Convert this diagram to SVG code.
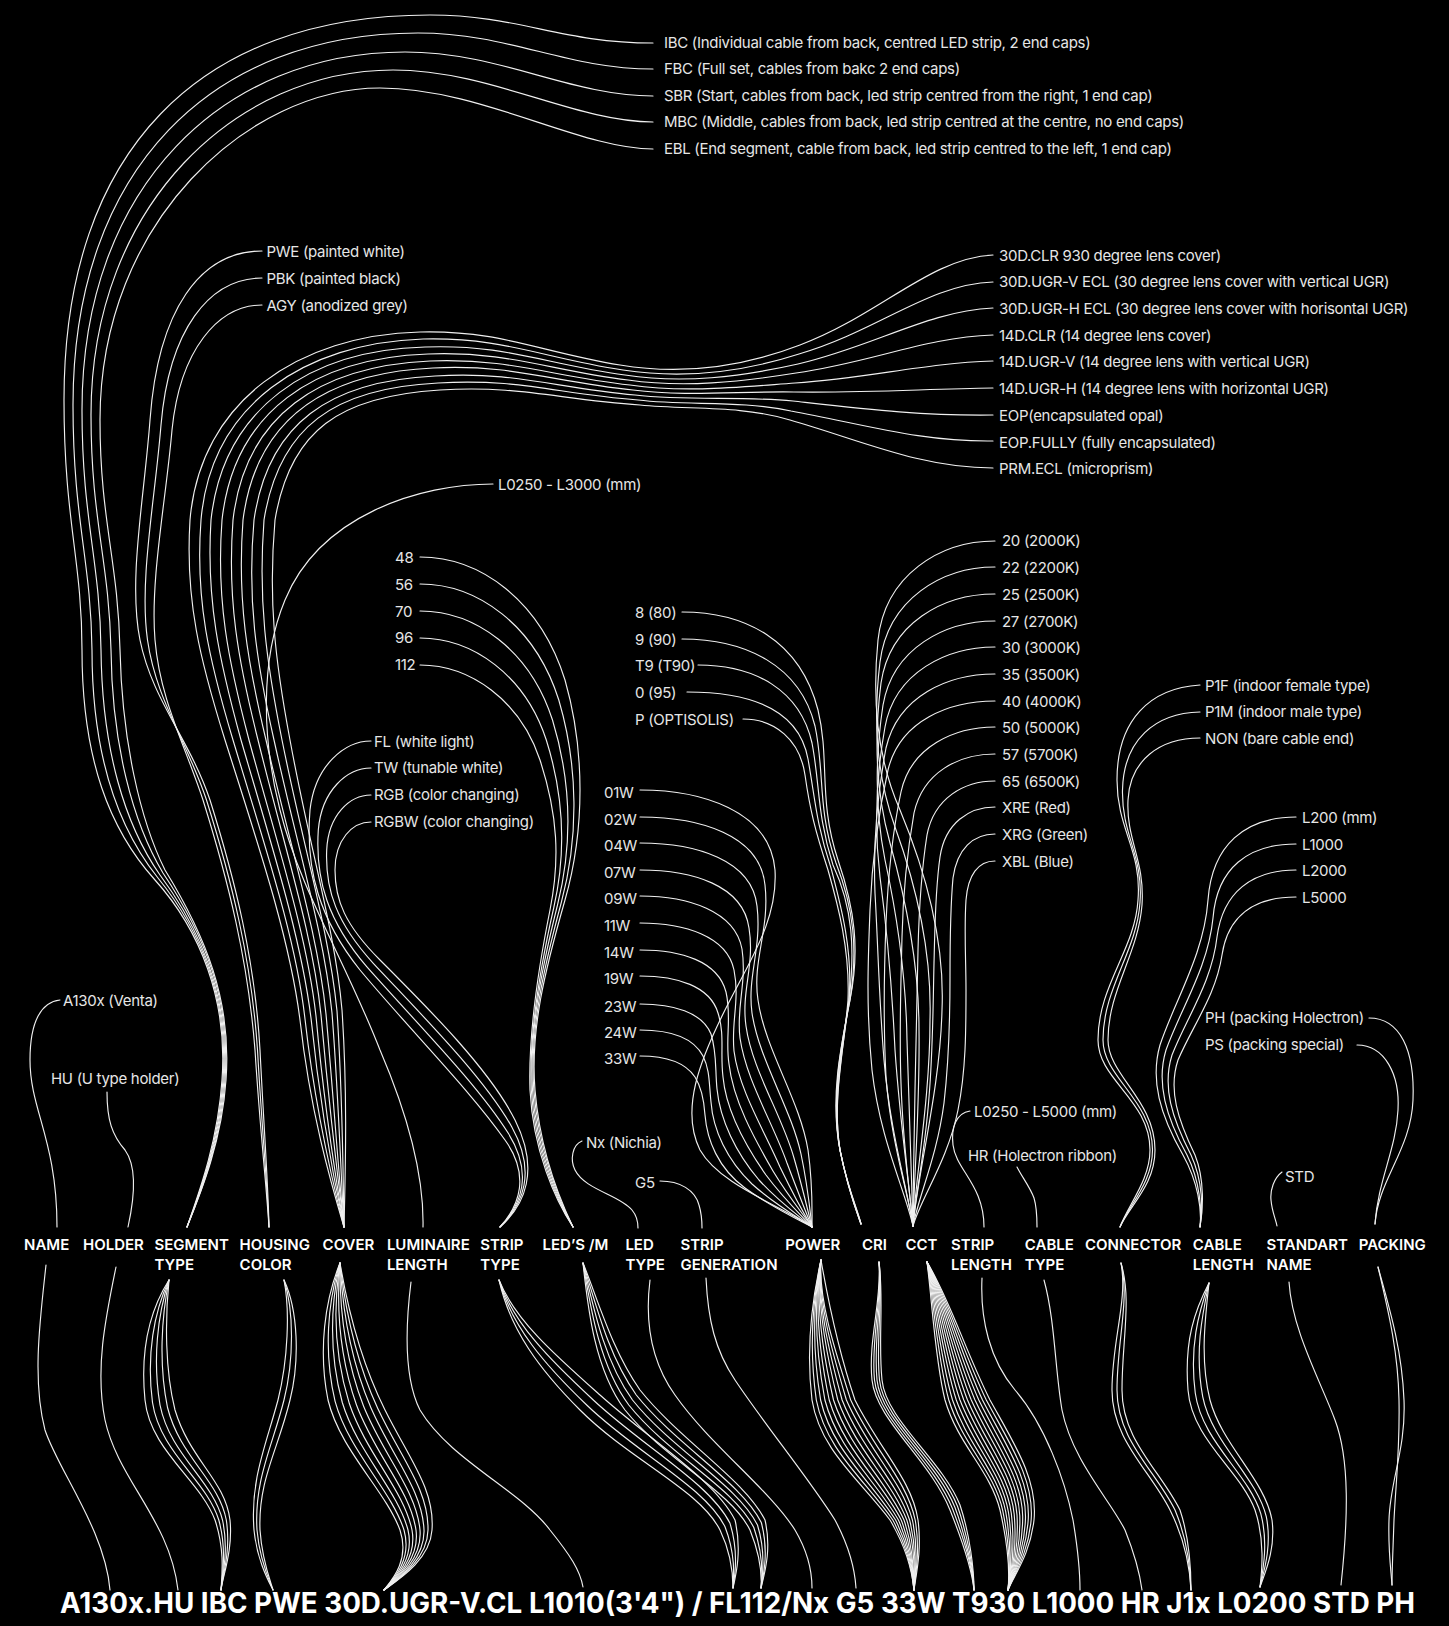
<svg xmlns="http://www.w3.org/2000/svg" width="1449" height="1626" viewBox="0 0 1449 1626">
<style>
.l{fill:none;stroke:#f0f0f0;stroke-width:1.15;stroke-linecap:round}
.o{font-family:Inter,"Noto Sans","Liberation Sans",sans-serif;font-size:15px;fill:#e6e6e6;letter-spacing:-0.3px}
.k{font-family:Inter,"Noto Sans","Liberation Sans",sans-serif;font-size:15px;font-weight:600;fill:#ffffff}
.code{font-family:Inter,"Noto Sans","Liberation Sans",sans-serif;font-size:28.5px;font-weight:700;fill:#ffffff}
</style>
<rect width="1449" height="1626" fill="#000000"/>
<g id="connectors">
<g id="c-segment">
<path class="l" d="M653,43 C560,43 520,15 430,15 C200,15 64,150 64,400 C64,520 82,560 82,650 C82,760 110,830 155,880 C200,930 228,1000 222,1080 C218,1140 200,1190 187,1227"/>
<path class="l" d="M653,69 C565,69 510,33 418,33 C213,33 73,168 73,405 C73,520 91,560 92,650 C92,755 118,828 158,878 C201,931 229,1000 223,1080 C219,1140 201,1190 187,1227"/>
<path class="l" d="M653,96 C570,96 500,52 405,52 C225,52 82,185 82,410 C82,520 100,560 101,650 C102,750 125,825 160,875 C203,933 230,1000 224,1080 C220,1140 201,1190 187,1227"/>
<path class="l" d="M653,122 C575,122 490,70 393,70 C238,70 91,203 91,415 C91,520 109,560 111,650 C112,745 133,823 163,873 C204,934 231,1000 225,1080 C221,1140 202,1190 187,1227"/>
<path class="l" d="M653,149 C580,149 480,88 380,88 C250,88 100,220 100,420 C100,520 118,560 120,650 C122,740 140,820 165,870 C205,935 232,1000 226,1080 C222,1140 202,1190 187,1227"/>
<path class="l" d="M169,1280 C150,1310 140,1350 145,1400 C150,1450 200,1480 215,1520 C225,1550 222,1575 221,1590"/>
<path class="l" d="M169,1280 C153.8,1312.5 146.3,1355 152.5,1402.5 C160,1452.5 206.3,1480 218.8,1520 C227,1550 222.3,1575 221,1590"/>
<path class="l" d="M169,1280 C157.5,1315 152.5,1360 160,1405 C170,1455 212.5,1480 222.5,1520 C229,1550 222.5,1575 221,1590"/>
<path class="l" d="M169,1280 C161.3,1317.5 158.8,1365 167.5,1407.5 C180,1457.5 218.8,1480 226.3,1520 C231,1550 222.8,1575 221,1590"/>
<path class="l" d="M169,1280 C165,1320 165,1370 175,1410 C190,1460 225,1480 230,1520 C233,1550 223,1575 221,1590"/>
</g>
<g id="c-housing">
<path class="l" d="M262,251 C200,251 158,310 150,420 C144,500 128,580 140,640 C152,700 190,740 210,800 C235,880 255,960 260,1050 C264,1130 268,1180 269,1227"/>
<path class="l" d="M262,278 C209,278 169,330 161,425 C155,500 139,580 147.5,640 C156,700 187.5,742.5 206.5,800 C231.5,880 251.5,960 257.5,1050 C262,1130 267,1180 269,1227"/>
<path class="l" d="M262,305 C218,305 180,350 172,430 C166,500 150,580 155,640 C160,700 185,745 203,800 C228,880 248,960 255,1050 C260,1130 266,1180 269,1227"/>
<path class="l" d="M284,1280 C298,1310 300,1360 290,1400 C278,1450 258,1480 260,1530 C262,1560 270,1580 273,1590"/>
<path class="l" d="M284,1280 C294,1310 294,1360 284,1400 C272,1447.5 254,1480 257,1530 C259.5,1560 269,1580 273,1590"/>
<path class="l" d="M284,1280 C290,1310 288,1360 278,1400 C266,1445 250,1480 254,1530 C257,1560 268,1580 273,1590"/>
</g>
<g id="c-cover">
<path class="l" d="M993,255 C930,258 880,315 800,345 C740,368 680,375 620,365 C540,352 500,330 420,332 C300,335 200,400 190,520 C185,600 200,660 225,740 C260,850 290,940 300,1020 C310,1110 330,1180 344,1227"/>
<path class="l" d="M993,282 C929,284 878,331 799,354 C740,373 681,379 623,370 C543,358 503,337 423,339 C305,343 211,404 201,520 C195,600 209,660 233,740 C266,850 296,939 305,1019 C315,1109 332,1180 344,1227"/>
<path class="l" d="M993,308 C928,311 875,346 798,364 C740,377 683,384 625,375 C545,364 505,344 425,347 C310,350 223,408 211,520 C206,600 219,660 241,740 C273,850 301,938 311,1018 C320,1108 334,1180 344,1227"/>
<path class="l" d="M993,335 C926,337 873,362 796,373 C740,382 684,388 628,380 C548,370 508,351 428,354 C315,358 234,411 222,520 C216,600 228,660 249,740 C279,850 307,936 316,1016 C324,1106 336,1180 344,1227"/>
<path class="l" d="M993,361 C925,363 870,378 795,383 C740,387 685,393 630,385 C550,376 510,358 430,361 C320,366 245,415 233,520 C227,600 238,660 258,740 C285,850 313,935 321,1015 C329,1105 338,1180 344,1227"/>
<path class="l" d="M993,388 C924,389 868,393 794,392 C740,391 686,397 633,390 C553,382 513,364 433,368 C325,373 256,419 243,520 C237,600 247,660 266,740 C291,850 318,934 326,1014 C334,1104 339,1180 344,1227"/>
<path class="l" d="M993,415 C923,416 865,409 793,401 C740,396 688,401 635,395 C555,388 515,371 435,376 C330,381 268,423 254,520 C247,600 256,660 274,740 C298,850 324,933 332,1013 C339,1103 341,1180 344,1227"/>
<path class="l" d="M993,441 C921,442 863,424 791,411 C740,400 689,406 638,400 C558,394 518,378 438,383 C335,388 279,426 264,520 C258,600 266,660 282,740 C304,850 329,931 337,1011 C343,1101 343,1180 344,1227"/>
<path class="l" d="M993,468 C920,468 860,440 790,420 C740,405 690,410 640,405 C560,400 520,385 440,390 C340,396 290,430 275,520 C268,600 275,660 290,740 C310,850 335,930 342,1010 C348,1100 345,1180 344,1227"/>
<path class="l" d="M340,1263 C325,1300 318,1350 328,1400 C340,1450 385,1490 400,1530 C410,1560 392,1580 384,1590"/>
<path class="l" d="M340,1263 C327.9,1301.3 323.3,1351.3 335.1,1401.3 C348.8,1451.3 391.3,1490 404,1530 C412.5,1560 392.8,1580 384,1590"/>
<path class="l" d="M340,1263 C330.8,1302.5 328.5,1352.5 342.3,1402.5 C357.5,1452.5 397.5,1490 408,1530 C415,1560 393.5,1580 384,1590"/>
<path class="l" d="M340,1263 C333.6,1303.8 333.8,1353.8 349.4,1403.8 C366.3,1453.8 403.8,1490 412,1530 C417.5,1560 394.3,1580 384,1590"/>
<path class="l" d="M340,1263 C336.5,1305 339,1355 356.5,1405 C375,1455 410,1490 416,1530 C420,1560 395,1580 384,1590"/>
<path class="l" d="M340,1263 C339.4,1306.3 344.3,1356.3 363.6,1406.3 C383.8,1456.3 416.3,1490 420,1530 C422.5,1560 395.8,1580 384,1590"/>
<path class="l" d="M340,1263 C342.3,1307.5 349.5,1357.5 370.8,1407.5 C392.5,1457.5 422.5,1490 424,1530 C425,1560 396.5,1580 384,1590"/>
<path class="l" d="M340,1263 C345.1,1308.8 354.8,1358.8 377.9,1408.8 C401.3,1458.8 428.8,1490 428,1530 C427.5,1560 397.3,1580 384,1590"/>
<path class="l" d="M340,1263 C348,1310 360,1360 385,1410 C410,1460 435,1490 432,1530 C430,1560 398,1580 384,1590"/>
</g>
<g id="c-luminaire">
<path class="l" d="M493,484 C420,484 320,515 285,600 C260,660 262,740 280,810 C300,890 345,960 380,1050 C410,1120 424,1180 423,1227"/>
<path class="l" d="M411,1282 C405,1330 405,1380 420,1410 C450,1460 520,1490 550,1530 C570,1555 580,1570 583,1587"/>
</g>
<g id="c-striptype">
<path class="l" d="M371,741 C345,741 315,765 310,810 C305,870 320,920 360,970 C410,1030 470,1090 505,1140 C530,1175 520,1205 500,1227"/>
<path class="l" d="M371,768 C347.3,768 321.7,790 318.3,830 C315,880 328.3,921.7 366.7,966.7 C416.7,1023.3 476.7,1083.3 508.3,1133.3 C533.3,1173.3 521.7,1205 500,1227"/>
<path class="l" d="M371,795 C349.7,795 328.3,815 326.7,850 C325,890 336.7,923.3 373.3,963.3 C423.3,1016.7 483.3,1076.7 511.7,1126.7 C536.7,1171.7 523.3,1205 500,1227"/>
<path class="l" d="M371,822 C352,822 335,840 335,870 C335,900 345,925 380,960 C430,1010 490,1070 515,1120 C540,1170 525,1205 500,1227"/>
<path class="l" d="M499,1280 C510,1330 540,1370 580,1410 C630,1460 700,1490 720,1530 C732,1555 733,1575 733,1588"/>
<path class="l" d="M499,1280 C511.7,1326.7 545,1365 586.7,1405 C636.7,1453.3 705,1486.7 725,1526.7 C735.3,1553.3 734,1575 733,1588"/>
<path class="l" d="M499,1280 C513.3,1323.3 550,1360 593.3,1400 C643.3,1446.7 710,1483.3 730,1523.3 C738.7,1551.7 735,1575 733,1588"/>
<path class="l" d="M499,1280 C515,1320 555,1355 600,1395 C650,1440 715,1480 735,1520 C742,1550 736,1575 733,1588"/>
</g>
<g id="c-ledsm">
<path class="l" d="M420,557 C480,557 540,600 565,680 C585,750 585,830 565,900 C545,970 530,1030 535,1090 C540,1150 560,1200 573,1227"/>
<path class="l" d="M420,584 C477.5,584 535,625 558.8,700 C578.3,766.3 578.8,837.5 561.3,902.5 C543.8,967.5 529.5,1030 533.8,1090 C538.3,1150 558.8,1200 573,1227"/>
<path class="l" d="M420,611 C475,611 530,650 552.5,720 C571.5,782.5 572.5,845 557.5,905 C542.5,965 529,1030 532.5,1090 C536.5,1150 557.5,1200 573,1227"/>
<path class="l" d="M420,638 C472.5,638 525,675 546.3,740 C564.8,798.8 566.3,852.5 553.8,907.5 C541.3,962.5 528.5,1030 531.3,1090 C534.8,1150 556.3,1200 573,1227"/>
<path class="l" d="M420,665 C470,665 520,700 540,760 C558,815 560,860 550,910 C540,960 528,1030 530,1090 C533,1150 555,1200 573,1227"/>
<path class="l" d="M583,1263 C588,1310 595,1370 625,1410 C665,1460 730,1490 750,1530 C760,1555 762,1575 761,1588"/>
<path class="l" d="M583,1263 C590.5,1307.5 599.3,1365 628.8,1405 C668.8,1455 733.8,1487.5 753.8,1527.5 C763,1553.8 762.5,1575 761,1588"/>
<path class="l" d="M583,1263 C593,1305 603.5,1360 632.5,1400 C672.5,1450 737.5,1485 757.5,1525 C766,1552.5 763,1575 761,1588"/>
<path class="l" d="M583,1263 C595.5,1302.5 607.8,1355 636.3,1395 C676.3,1445 741.3,1482.5 761.3,1522.5 C769,1551.3 763.5,1575 761,1588"/>
<path class="l" d="M583,1263 C598,1300 612,1350 640,1390 C680,1440 745,1480 765,1520 C772,1550 764,1575 761,1588"/>
</g>
<g id="c-name">
<path class="l" d="M60,1000 C42,1002 30,1020 30,1060 C30,1110 57,1140 57,1227"/>
<path class="l" d="M46,1265 C40,1320 32,1380 45,1430 C58,1470 105,1530 110,1590"/>
</g>
<g id="c-holder">
<path class="l" d="M107,1092 C107,1120 112,1135 125,1150 C138,1168 134,1200 128,1227"/>
<path class="l" d="M116,1267 C105,1320 95,1370 105,1420 C118,1480 170,1520 178,1590"/>
</g>
<g id="c-ledtype">
<path class="l" d="M582,1141 C572,1145 570,1160 575,1170 C585,1190 620,1195 632,1210 C637,1216 638,1222 638,1228"/>
<path class="l" d="M650,1280 C645,1320 650,1360 675,1395 C710,1445 770,1490 795,1530 C808,1552 812,1572 812,1588"/>
</g>
<g id="c-stripgen">
<path class="l" d="M660,1181 C680,1181 695,1190 699,1205 C702,1215 702,1222 702,1228"/>
<path class="l" d="M706,1278 C708,1320 715,1350 735,1380 C765,1425 810,1480 835,1520 C850,1548 855,1572 856,1588"/>
</g>
<g id="c-power">
<path class="l" d="M640,790 C700,790 770,810 775,870 C778,920 750,960 725,1010 C700,1060 680,1110 700,1150 C720,1185 780,1205 812,1227"/>
<path class="l" d="M640,817 C700,817 760,835 765,885 C770,930 752,960 758,1000 C765,1050 800,1100 808,1150 C813,1185 812,1210 812,1227"/>
<path class="l" d="M640,843 C696,843 752,860 757,906 C762,948 747,976 752,1013 C759,1060 791,1108 801,1154 C808,1187 810,1211 812,1227"/>
<path class="l" d="M640,870 C692,870 743,885 749,928 C755,965 741,991 746,1026 C752,1070 782,1115 794,1158 C803,1189 808,1212 812,1227"/>
<path class="l" d="M640,896 C688,896 735,911 742,949 C747,983 736,1007 740,1038 C746,1080 773,1123 787,1163 C798,1192 806,1213 812,1227"/>
<path class="l" d="M640,923 C684,923 727,936 734,970 C740,1000 731,1022 734,1051 C739,1090 764,1130 780,1167 C793,1194 804,1214 812,1227"/>
<path class="l" d="M640,950 C681,950 718,961 726,992 C732,1018 725,1038 729,1064 C733,1100 754,1138 773,1171 C788,1196 803,1214 812,1227"/>
<path class="l" d="M640,976 C677,976 710,986 718,1013 C725,1035 720,1053 723,1077 C726,1110 745,1145 766,1175 C783,1198 801,1215 812,1227"/>
<path class="l" d="M640,1004 C673,1004 702,1012 711,1034 C717,1053 715,1069 717,1089 C720,1120 736,1153 759,1180 C778,1201 799,1216 812,1227"/>
<path class="l" d="M640,1030 C669,1030 693,1037 703,1056 C710,1070 709,1084 711,1102 C713,1130 727,1160 752,1184 C773,1203 797,1217 812,1227"/>
<path class="l" d="M640,1056 C665,1056 685,1062 695,1077 C702,1088 704,1100 705,1115 C707,1140 718,1168 745,1188 C768,1205 795,1218 812,1227"/>
<path class="l" d="M821,1260 C812,1300 806,1350 812,1400 C820,1450 860,1480 890,1520 C905,1545 912,1570 914,1590"/>
<path class="l" d="M821,1260 C812.7,1300 809.2,1350 816.3,1400 C826,1450 865.2,1480 892.8,1520 C906.7,1545.5 912.4,1570.5 914,1590"/>
<path class="l" d="M821,1260 C813.4,1300 812.4,1350 820.6,1400 C832,1450 870.4,1480 895.6,1520 C908.4,1546 912.8,1571 914,1590"/>
<path class="l" d="M821,1260 C814.1,1300 815.6,1350 824.9,1400 C838,1450 875.6,1480 898.4,1520 C910.1,1546.5 913.2,1571.5 914,1590"/>
<path class="l" d="M821,1260 C814.8,1300 818.8,1350 829.2,1400 C844,1450 880.8,1480 901.2,1520 C911.8,1547 913.6,1572 914,1590"/>
<path class="l" d="M821,1260 C815.5,1300 822,1350 833.5,1400 C850,1450 886,1480 904,1520 C913.5,1547.5 914,1572.5 914,1590"/>
<path class="l" d="M821,1260 C816.2,1300 825.2,1350 837.8,1400 C856,1450 891.2,1480 906.8,1520 C915.2,1548 914.4,1573 914,1590"/>
<path class="l" d="M821,1260 C816.9,1300 828.4,1350 842.1,1400 C862,1450 896.4,1480 909.6,1520 C916.9,1548.5 914.8,1573.5 914,1590"/>
<path class="l" d="M821,1260 C817.6,1300 831.6,1350 846.4,1400 C868,1450 901.6,1480 912.4,1520 C918.6,1549 915.2,1574 914,1590"/>
<path class="l" d="M821,1260 C818.3,1300 834.8,1350 850.7,1400 C874,1450 906.8,1480 915.2,1520 C920.3,1549.5 915.6,1574.5 914,1590"/>
<path class="l" d="M821,1260 C828,1300 838,1350 855,1400 C880,1450 912,1480 918,1520 C922,1550 916,1575 914,1590"/>
</g>
<g id="c-cri">
<path class="l" d="M682,612 C745,612 800,640 818,710 C830,760 818,800 838,860 C855,910 860,950 850,1000 C840,1050 830,1100 840,1150 C848,1190 856,1210 861,1224"/>
<path class="l" d="M682,639 C745,639 800,665 815,726 C825,773 817,808 836,863 C854,909 858,950 850,1000 C840,1050 831,1100 840,1150 C848,1190 857,1210 861,1224"/>
<path class="l" d="M698,665 C755,665 800,690 812,743 C820,785 817,815 833,865 C853,908 855,950 849,1000 C842,1050 831,1100 840,1150 C848,1190 857,1210 861,1224"/>
<path class="l" d="M687,692 C760,692 800,715 808,759 C815,798 816,823 831,868 C841,906 853,950 849,1000 C843,1050 832,1100 840,1150 C848,1190 858,1210 861,1224"/>
<path class="l" d="M743,719 C775,719 800,740 805,775 C810,810 815,830 828,870 C838,905 850,950 848,1000 C844,1050 832,1100 840,1150 C848,1190 856,1210 861,1224"/>
<path class="l" d="M879,1262 C882,1300 868,1340 872,1380 C876,1420 930,1460 950,1510 C962,1540 972,1570 974,1590"/>
<path class="l" d="M879,1262 C882.5,1300 870.5,1340 874.5,1380 C878.5,1420 933,1460 952.5,1508.8 C964,1538.8 972.5,1570 974,1590"/>
<path class="l" d="M879,1262 C883,1300 873,1340 877,1380 C881,1420 936,1460 955,1507.5 C966,1537.5 973,1570 974,1590"/>
<path class="l" d="M879,1262 C883.5,1300 875.5,1340 879.5,1380 C883.5,1420 939,1460 957.5,1506.3 C968,1536.3 973.5,1570 974,1590"/>
<path class="l" d="M879,1262 C884,1300 878,1340 882,1380 C886,1420 942,1460 960,1505 C970,1535 974,1570 974,1590"/>
</g>
<g id="c-cct">
<path class="l" d="M995,541 C940,541 885,575 878,640 C872,700 878,760 900,810 C925,870 945,940 942,1010 C940,1090 918,1170 913,1226"/>
<path class="l" d="M995,567 C942,567 888,599 880,662 C873,719 877,777 895,827 C916,885 932,952 930,1020 C930,1098 916,1173 913,1226"/>
<path class="l" d="M995,594 C943,594 890,623 881,683 C874,738 876,793 890,843 C906,900 919,963 919,1030 C920,1107 914,1177 913,1226"/>
<path class="l" d="M995,621 C945,621 893,648 883,705 C875,758 875,810 885,860 C897,915 906,975 907,1040 C910,1115 912,1180 913,1226"/>
<path class="l" d="M995,647 C947,647 895,672 885,727 C876,777 874,827 880,877 C887,930 892,987 895,1050 C900,1123 909,1183 913,1226"/>
<path class="l" d="M995,674 C948,674 898,696 886,748 C877,796 873,843 875,893 C878,945 879,998 884,1060 C890,1132 907,1187 913,1226"/>
<path class="l" d="M995,701 C950,701 900,720 888,770 C878,815 872,860 870,910 C868,960 866,1010 872,1070 C880,1140 905,1190 913,1226"/>
<path class="l" d="M995,727 C955,727 911,746 901,792 C892,834 888,877 886,923 C884,972 883,1020 886,1077 C891,1143 908,1192 913,1226"/>
<path class="l" d="M995,754 C959,754 923,772 914,813 C907,853 903,893 902,937 C901,983 899,1030 901,1083 C903,1147 910,1193 913,1226"/>
<path class="l" d="M995,781 C964,781 934,798 927,835 C921,873 919,910 918,950 C917,995 916,1040 915,1090 C914,1150 913,1195 913,1226"/>
<path class="l" d="M995,807 C969,807 945,823 940,857 C935,892 935,927 934,963 C933,1007 933,1050 929,1097 C925,1153 915,1197 913,1226"/>
<path class="l" d="M995,834 C973,834 957,849 953,878 C950,911 950,943 950,977 C950,1018 949,1060 944,1103 C937,1157 918,1198 913,1226"/>
<path class="l" d="M995,861 C978,861 968,875 966,900 C964,930 966,960 966,990 C966,1030 966,1070 958,1110 C948,1160 920,1200 913,1226"/>
<path class="l" d="M927,1262 C932,1300 935,1360 945,1400 C958,1445 990,1470 1000,1510 C1008,1545 1010,1570 1008,1590"/>
<path class="l" d="M927,1262 C933.5,1300 937.5,1359.2 948.8,1400 C962.8,1445 994,1470.8 1002.8,1510.8 C1009.8,1545.8 1010.3,1570.4 1008,1590"/>
<path class="l" d="M927,1262 C935,1300 940,1358.3 952.5,1400 C967.5,1445 998,1471.7 1005.7,1511.7 C1011.7,1546.7 1010.7,1570.8 1008,1590"/>
<path class="l" d="M927,1262 C936.5,1300 942.5,1357.5 956.3,1400 C972.3,1445 1002,1472.5 1008.5,1512.5 C1013.5,1547.5 1011,1571.3 1008,1590"/>
<path class="l" d="M927,1262 C938,1300 945,1356.7 960,1400 C977,1445 1006,1473.3 1011.3,1513.3 C1015.3,1548.3 1011.3,1571.7 1008,1590"/>
<path class="l" d="M927,1262 C939.5,1300 947.5,1355.8 963.8,1400 C981.8,1445 1010,1474.2 1014.2,1514.2 C1017.2,1549.2 1011.7,1572.1 1008,1590"/>
<path class="l" d="M927,1262 C941,1300 950,1355 967.5,1400 C986.5,1445 1014,1475 1017,1515 C1019,1550 1012,1572.5 1008,1590"/>
<path class="l" d="M927,1262 C942.5,1300 952.5,1354.2 971.3,1400 C991.3,1445 1018,1475.8 1019.8,1515.8 C1020.8,1550.8 1012.3,1572.9 1008,1590"/>
<path class="l" d="M927,1262 C944,1300 955,1353.3 975,1400 C996,1445 1022,1476.7 1022.7,1516.7 C1022.7,1551.7 1012.7,1573.3 1008,1590"/>
<path class="l" d="M927,1262 C945.5,1300 957.5,1352.5 978.8,1400 C1000.8,1445 1026,1477.5 1025.5,1517.5 C1024.5,1552.5 1013,1573.8 1008,1590"/>
<path class="l" d="M927,1262 C947,1300 960,1351.7 982.5,1400 C1005.5,1445 1030,1478.3 1028.3,1518.3 C1026.3,1553.3 1013.3,1574.2 1008,1590"/>
<path class="l" d="M927,1262 C948.5,1300 962.5,1350.8 986.3,1400 C1010.3,1445 1034,1479.2 1031.2,1519.2 C1028.2,1554.2 1013.7,1574.6 1008,1590"/>
<path class="l" d="M927,1262 C950,1300 965,1350 990,1400 C1015,1445 1038,1480 1034,1520 C1030,1555 1014,1575 1008,1590"/>
</g>
<g id="c-striplength">
<path class="l" d="M970,1111 C956,1113 951,1128 953,1145 C956,1170 984,1185 984,1227"/>
<path class="l" d="M982,1278 C980,1320 990,1360 1015,1390 C1045,1425 1065,1480 1073,1520 C1078,1550 1080,1570 1080,1590"/>
</g>
<g id="c-cabletype">
<path class="l" d="M1017,1167 C1022,1177 1030,1187 1034,1198 C1037,1208 1037,1218 1037,1227"/>
<path class="l" d="M1044,1280 C1055,1320 1055,1370 1062,1410 C1072,1460 1110,1500 1125,1530 C1135,1555 1140,1575 1142,1590"/>
</g>
<g id="c-connector">
<path class="l" d="M1200,685 C1150,688 1117,720 1117,780 C1117,830 1142,850 1138,900 C1135,950 1098,985 1098,1040 C1098,1080 1150,1100 1150,1150 C1150,1180 1128,1205 1120,1227"/>
<path class="l" d="M1200,712 C1155,713 1123.5,740 1122.5,790 C1121.5,835 1143.5,855 1140,902.5 C1136.5,952.5 1103,987.5 1103,1040 C1103,1077.5 1152.5,1100 1152.5,1150 C1152.5,1182.5 1129,1205 1120,1227"/>
<path class="l" d="M1200,738 C1160,738 1130,760 1128,800 C1126,840 1145,860 1142,905 C1138,955 1108,990 1108,1040 C1108,1075 1155,1100 1155,1150 C1155,1185 1130,1205 1120,1227"/>
<path class="l" d="M1121,1263 C1128,1300 1112,1340 1112,1390 C1112,1440 1150,1470 1170,1510 C1185,1540 1190,1570 1191,1590"/>
<path class="l" d="M1121,1263 C1130,1300 1117,1340 1117,1390 C1117,1440 1155,1470 1175,1510 C1187.5,1540 1190.5,1570 1191,1590"/>
<path class="l" d="M1121,1263 C1132,1300 1122,1340 1122,1390 C1122,1440 1160,1470 1180,1510 C1190,1540 1191,1570 1191,1590"/>
</g>
<g id="c-cablelength">
<path class="l" d="M1296,817 C1245,817 1212,845 1208,900 C1204,955 1175,1000 1160,1045 C1150,1080 1160,1115 1183,1155 C1198,1182 1202,1210 1200,1227"/>
<path class="l" d="M1296,844 C1248,844 1217,868 1213,918 C1208,968 1181,1008 1166,1050 C1156,1083 1166,1117 1187,1155 C1200,1181 1202,1210 1200,1227"/>
<path class="l" d="M1296,870 C1252,870 1223,892 1217,937 C1212,982 1187,1017 1172,1055 C1162,1087 1172,1118 1191,1155 C1203,1181 1203,1210 1200,1227"/>
<path class="l" d="M1296,897 C1255,897 1228,915 1222,955 C1216,995 1193,1025 1178,1060 C1168,1090 1178,1120 1195,1155 C1205,1180 1203,1210 1200,1227"/>
<path class="l" d="M1209,1283 C1195,1310 1184,1340 1188,1390 C1192,1440 1240,1470 1255,1510 C1265,1540 1262,1570 1260,1587"/>
<path class="l" d="M1209,1283 C1198.3,1313.3 1189.3,1346.7 1195.3,1393.3 C1202,1441.7 1248.3,1473.3 1260.7,1513.3 C1268.7,1543.3 1262.7,1571.7 1260,1587"/>
<path class="l" d="M1209,1283 C1201.7,1316.7 1194.7,1353.3 1202.7,1396.7 C1212,1443.3 1256.7,1476.7 1266.3,1516.7 C1272.3,1546.7 1263.3,1573.3 1260,1587"/>
<path class="l" d="M1209,1283 C1205,1320 1200,1360 1210,1400 C1222,1445 1265,1480 1272,1520 C1276,1550 1264,1575 1260,1587"/>
</g>
<g id="c-standart">
<path class="l" d="M1282,1172 C1274,1178 1270,1190 1271,1200 C1272,1212 1276,1220 1277,1226"/>
<path class="l" d="M1289,1282 C1292,1330 1320,1380 1335,1420 C1350,1460 1348,1520 1341,1585"/>
</g>
<g id="c-packing">
<path class="l" d="M1369,1018 C1400,1018 1415,1050 1413,1100 C1411,1150 1378,1180 1375,1224"/>
<path class="l" d="M1357,1045 C1385,1045 1400,1075 1398,1110 C1396,1150 1378,1180 1375,1224"/>
<path class="l" d="M1378,1267 C1390,1310 1402,1350 1404,1400 C1406,1450 1390,1480 1389,1520 C1388,1550 1391,1570 1392,1585"/>
<path class="l" d="M1378,1267 C1388,1310 1398,1350 1399,1400 C1400,1450 1396,1480 1394,1520 C1393,1550 1392,1570 1392,1585"/>
</g>
</g>
<g id="opt-ibc"><text class="o" x="664" y="48">IBC (Individual cable from back, centred LED strip, 2 end caps)</text></g>
<g id="opt-fbc"><text class="o" x="664" y="74">FBC (Full set, cables from bakc 2 end caps)</text></g>
<g id="opt-sbr"><text class="o" x="664" y="101">SBR (Start, cables from back, led strip centred from the right, 1 end cap)</text></g>
<g id="opt-mbc"><text class="o" x="664" y="127">MBC (Middle, cables from back, led strip centred at the centre, no end caps)</text></g>
<g id="opt-ebl"><text class="o" x="664" y="154">EBL (End segment, cable from back, led strip centred to the left, 1 end cap)</text></g>
<g id="opt-pwe"><text class="o" x="266.5" y="256.5">PWE (painted white)</text></g>
<g id="opt-pbk"><text class="o" x="266.5" y="283.5">PBK (painted black)</text></g>
<g id="opt-agy"><text class="o" x="266.5" y="310.5">AGY (anodized grey)</text></g>
<g id="opt-30dclr"><text class="o" x="999" y="260.5">30D.CLR 930 degree lens cover)</text></g>
<g id="opt-30dugrv"><text class="o" x="999" y="286.5">30D.UGR-V ECL (30 degree lens cover with vertical UGR)</text></g>
<g id="opt-30dugrh"><text class="o" x="999" y="313.5">30D.UGR-H ECL (30 degree lens cover with horisontal UGR)</text></g>
<g id="opt-14dclr"><text class="o" x="999" y="340.5">14D.CLR (14 degree lens cover)</text></g>
<g id="opt-14dugrv"><text class="o" x="999" y="366.5">14D.UGR-V (14 degree lens with vertical UGR)</text></g>
<g id="opt-14dugrh"><text class="o" x="999" y="393.5">14D.UGR-H (14 degree lens with horizontal UGR)</text></g>
<g id="opt-eop"><text class="o" x="999" y="420.5">EOP(encapsulated opal)</text></g>
<g id="opt-eopfully"><text class="o" x="999" y="447.5">EOP.FULLY (fully encapsulated)</text></g>
<g id="opt-prm"><text class="o" x="999" y="473.5">PRM.ECL (microprism)</text></g>
<g id="opt-lum"><text class="o" x="498" y="489.5">L0250 - L3000 (mm)</text></g>
<g id="opt-48"><text class="o" x="395" y="562.5">48</text></g>
<g id="opt-56"><text class="o" x="395" y="589.5">56</text></g>
<g id="opt-70"><text class="o" x="395" y="616.5">70</text></g>
<g id="opt-96"><text class="o" x="395" y="642.5">96</text></g>
<g id="opt-112"><text class="o" x="395" y="669.5">112</text></g>
<g id="opt-fl"><text class="o" x="374" y="747">FL (white light)</text></g>
<g id="opt-tw"><text class="o" x="374" y="773">TW (tunable white)</text></g>
<g id="opt-rgb"><text class="o" x="374" y="800">RGB (color changing)</text></g>
<g id="opt-rgbw"><text class="o" x="374" y="827">RGBW (color changing)</text></g>
<g id="opt-cri8"><text class="o" x="635" y="617.5">8 (80)</text></g>
<g id="opt-cri9"><text class="o" x="635" y="644.5">9 (90)</text></g>
<g id="opt-crit9"><text class="o" x="635" y="670.5">T9 (T90)</text></g>
<g id="opt-cri0"><text class="o" x="635" y="697.5">0 (95)</text></g>
<g id="opt-crip"><text class="o" x="635" y="724.5">P (OPTISOLIS)</text></g>
<g id="opt-01w"><text class="o" x="604" y="797.5">01W</text></g>
<g id="opt-02w"><text class="o" x="604" y="824.5">02W</text></g>
<g id="opt-04w"><text class="o" x="604" y="850.5">04W</text></g>
<g id="opt-07w"><text class="o" x="604" y="877.5">07W</text></g>
<g id="opt-09w"><text class="o" x="604" y="903.5">09W</text></g>
<g id="opt-11w"><text class="o" x="604" y="930.5">11W</text></g>
<g id="opt-14w"><text class="o" x="604" y="957.5">14W</text></g>
<g id="opt-19w"><text class="o" x="604" y="983.5">19W</text></g>
<g id="opt-23w"><text class="o" x="604" y="1011.5">23W</text></g>
<g id="opt-24w"><text class="o" x="604" y="1037.5">24W</text></g>
<g id="opt-33w"><text class="o" x="604" y="1063.5">33W</text></g>
<g id="opt-cct20"><text class="o" x="1002" y="545.5">20 (2000K)</text></g>
<g id="opt-cct22"><text class="o" x="1002" y="572.5">22 (2200K)</text></g>
<g id="opt-cct25"><text class="o" x="1002" y="599.5">25 (2500K)</text></g>
<g id="opt-cct27"><text class="o" x="1002" y="626.5">27 (2700K)</text></g>
<g id="opt-cct30"><text class="o" x="1002" y="652.5">30 (3000K)</text></g>
<g id="opt-cct35"><text class="o" x="1002" y="679.5">35 (3500K)</text></g>
<g id="opt-cct40"><text class="o" x="1002" y="706.5">40 (4000K)</text></g>
<g id="opt-cct50"><text class="o" x="1002" y="732.5">50 (5000K)</text></g>
<g id="opt-cct57"><text class="o" x="1002" y="759.5">57 (5700K)</text></g>
<g id="opt-cct65"><text class="o" x="1002" y="786.5">65 (6500K)</text></g>
<g id="opt-xre"><text class="o" x="1002" y="812.5">XRE (Red)</text></g>
<g id="opt-xrg"><text class="o" x="1002" y="839.5">XRG (Green)</text></g>
<g id="opt-xbl"><text class="o" x="1002" y="866.5">XBL (Blue)</text></g>
<g id="opt-p1f"><text class="o" x="1205" y="691">P1F (indoor female type)</text></g>
<g id="opt-p1m"><text class="o" x="1205" y="717">P1M (indoor male type)</text></g>
<g id="opt-non"><text class="o" x="1205" y="744">NON (bare cable end)</text></g>
<g id="opt-l200"><text class="o" x="1302" y="822.5">L200 (mm)</text></g>
<g id="opt-l1000"><text class="o" x="1302" y="849.5">L1000</text></g>
<g id="opt-l2000"><text class="o" x="1302" y="875.5">L2000</text></g>
<g id="opt-l5000"><text class="o" x="1302" y="902.5">L5000</text></g>
<g id="opt-ph"><text class="o" x="1205" y="1023">PH (packing Holectron)</text></g>
<g id="opt-ps"><text class="o" x="1205" y="1050">PS (packing special)</text></g>
<g id="opt-a130x"><text class="o" x="63" y="1005.5">A130x (Venta)</text></g>
<g id="opt-hu"><text class="o" x="51" y="1084">HU (U type holder)</text></g>
<g id="opt-nx"><text class="o" x="586" y="1147.5">Nx (Nichia)</text></g>
<g id="opt-g5"><text class="o" x="635" y="1187.5">G5</text></g>
<g id="opt-striplen"><text class="o" x="974" y="1116.5">L0250 - L5000 (mm)</text></g>
<g id="opt-hr"><text class="o" x="968" y="1160.5">HR (Holectron ribbon)</text></g>
<g id="opt-std"><text class="o" x="1285" y="1181.5">STD</text></g>
<g id="cat-name"><text class="k" x="24" y="1250">NAME</text></g>
<g id="cat-holder"><text class="k" x="83" y="1250">HOLDER</text></g>
<g id="cat-segment"><text class="k" x="154.5" y="1250">SEGMENT</text><text class="k" x="154.5" y="1269.5">TYPE</text></g>
<g id="cat-housing"><text class="k" x="239.6" y="1250">HOUSING</text><text class="k" x="239.6" y="1269.5">COLOR</text></g>
<g id="cat-cover"><text class="k" x="322.6" y="1250">COVER</text></g>
<g id="cat-luminaire"><text class="k" x="386.9" y="1250">LUMINAIRE</text><text class="k" x="386.9" y="1269.5">LENGTH</text></g>
<g id="cat-striptype"><text class="k" x="480.2" y="1250">STRIP</text><text class="k" x="480.2" y="1269.5">TYPE</text></g>
<g id="cat-ledsm"><text class="k" x="542.5" y="1250">LED’S /M</text></g>
<g id="cat-ledtype"><text class="k" x="625.4" y="1250">LED</text><text class="k" x="625.4" y="1269.5">TYPE</text></g>
<g id="cat-stripgen"><text class="k" x="680.4" y="1250">STRIP</text><text class="k" x="680.4" y="1269.5">GENERATION</text></g>
<g id="cat-power"><text class="k" x="785.2" y="1250">POWER</text></g>
<g id="cat-cri"><text class="k" x="862" y="1250">CRI</text></g>
<g id="cat-cct"><text class="k" x="905.5" y="1250">CCT</text></g>
<g id="cat-striplength"><text class="k" x="951" y="1250">STRIP</text><text class="k" x="951" y="1269.5">LENGTH</text></g>
<g id="cat-cabletype"><text class="k" x="1024.8" y="1250">CABLE</text><text class="k" x="1024.8" y="1269.5">TYPE</text></g>
<g id="cat-connector"><text class="k" x="1085" y="1250">CONNECTOR</text></g>
<g id="cat-cablelength"><text class="k" x="1192.8" y="1250">CABLE</text><text class="k" x="1192.8" y="1269.5">LENGTH</text></g>
<g id="cat-standart"><text class="k" x="1266.4" y="1250">STANDART</text><text class="k" x="1266.4" y="1269.5">NAME</text></g>
<g id="cat-packing"><text class="k" x="1358.7" y="1250">PACKING</text></g>
<g id="code"><text class="code" x="60" y="1613" textLength="1355" lengthAdjust="spacingAndGlyphs">A130x.HU IBC PWE 30D.UGR-V.CL L1010(3'4&quot;) / FL112/Nx G5 33W T930 L1000 HR J1x L0200 STD PH</text></g>
</svg>
